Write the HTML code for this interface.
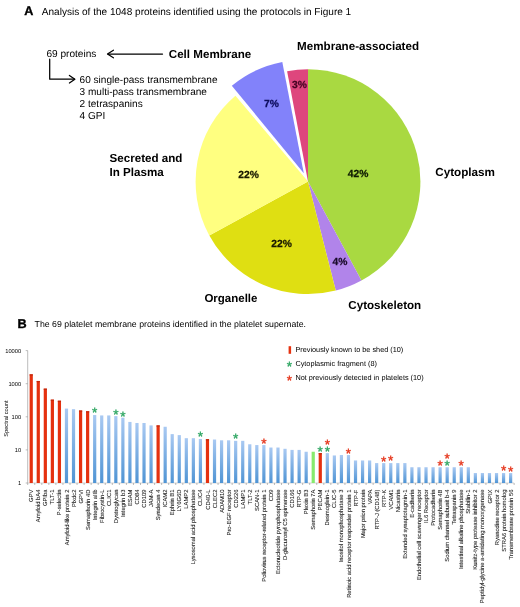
<!DOCTYPE html>
<html lang="en"><head><meta charset="utf-8"><title>Platelet membrane proteins</title>
<style>html,body{margin:0;padding:0;background:#fff;}svg{display:block;}text{font-family:"Liberation Sans", Arial, Helvetica, sans-serif;fill:#000;}.b{font-weight:bold;}.hv{stroke:#000;stroke-width:0.35px;}.pc{stroke-width:0.25px;}.xl text{fill:#202020;stroke:#202020;stroke-width:0.07px;}svg{text-rendering:geometricPrecision;}</style></head><body>
<svg width="520" height="607" viewBox="0 0 520 607">
<defs><linearGradient id="bg" x1="0" y1="0" x2="0" y2="1"><stop offset="0" stop-color="#a9c9f2"/><stop offset="1" stop-color="#4f94d4"/></linearGradient></defs>
<rect width="520" height="607" fill="#fff"/>
<text class="b hv" x="24.3" y="14.9" font-size="12.6">A</text>
<text x="41.8" y="14.8" font-size="10.06">Analysis of the 1048 proteins identified using the protocols in Figure 1</text>
<text x="46.4" y="57.4" font-size="10.1">69 proteins</text>
<text class="b" x="168.8" y="57.6" font-size="11.6">Cell Membrane</text>
<g stroke="#000" stroke-width="1.25" fill="none" stroke-linecap="round" stroke-linejoin="round">
<path d="M162.5 54 H108"/><path d="M113.4 50.2 L107.5 54 L113.4 57.8"/>
<path d="M49.7 59.2 V79.2 H74.4"/><path d="M69.4 75.4 L74.9 79.2 L69.4 83"/>
</g>
<text x="79.6" y="82.7" font-size="10.06">60 single-pass transmembrane</text>
<text x="79.6" y="94.8" font-size="10.06">3 multi-pass transmembrane</text>
<text x="79.6" y="106.9" font-size="10.06">2 tetraspanins</text>
<text x="79.6" y="119.0" font-size="10.06">4 GPI</text>
<text class="b" x="297.1" y="50.2" font-size="11.62">Membrane-associated</text>
<text class="b" x="109.5" y="162" font-size="11.62">Secreted and</text>
<text class="b" x="109.5" y="176.25" font-size="11.62">In Plasma</text>
<text class="b" x="204.4" y="302" font-size="11.5">Organelle</text>
<text class="b" x="435.2" y="176.2" font-size="11.7">Cytoplasm</text>
<text class="b" x="348.3" y="308.5" font-size="11.62">Cytoskeleton</text>
<path d="M308.00 181.60 L308.00 69.20 A112.40 112.40 0 0 1 361.46 280.47 Z" fill="#a9d941"/>
<path d="M308.00 181.60 L361.46 280.47 A112.40 112.40 0 0 1 335.76 290.52 Z" fill="#b184ea"/>
<path d="M308.00 181.60 L335.76 290.52 A112.40 112.40 0 0 1 209.31 235.40 Z" fill="#dfdf12"/>
<path d="M308.00 181.60 L209.31 235.40 A112.40 112.40 0 0 1 235.45 95.75 Z" fill="#ffff80"/>
<path d="M308.00 181.60 L287.13 71.15 A112.40 112.40 0 0 1 308.00 69.20 Z" fill="#de467d"/>
<path d="M303.80 173.20 L231.82 85.70 A113.30 113.30 0 0 1 282.30 61.96 Z" fill="#8282fa"/>
<text class="b pc" x="358.1" y="176.5" font-size="10.3" text-anchor="middle" style="fill:#0e1a02;stroke:#0e1a02">42%</text>
<text class="b pc" x="248.5" y="177.7" font-size="10.3" text-anchor="middle" style="fill:#1a1a00;stroke:#1a1a00">22%</text>
<text class="b pc" x="281.5" y="246.5" font-size="10.3" text-anchor="middle" style="fill:#1a1a00;stroke:#1a1a00">22%</text>
<text class="b pc" x="340.0" y="265.2" font-size="10.3" text-anchor="middle" style="fill:#1a0a2a;stroke:#1a0a2a">4%</text>
<text class="b pc" x="271.5" y="107.2" font-size="10.3" text-anchor="middle" style="fill:#0c0c5c;stroke:#0c0c5c">7%</text>
<text class="b pc" x="299.4" y="88.0" font-size="10.3" text-anchor="middle" style="fill:#480424;stroke:#480424">3%</text>
<text class="b hv" x="17.4" y="328.1" font-size="12.7">B</text>
<text x="34.6" y="327.4" font-size="8.75">The 69 platelet membrane proteins identified in the platelet supernate.</text>
<g stroke="#8f8f8f" stroke-width="0.6" fill="none">
<path d="M27.7 350.6 V483.0"/>
<path d="M27.7 483.0 H514.1" stroke="#b8b8b8"/>
<path d="M25.7 483.00 H27.7"/>
<path d="M25.7 449.90 H27.7"/>
<path d="M25.7 416.80 H27.7"/>
<path d="M25.7 383.70 H27.7"/>
<path d="M25.7 350.60 H27.7"/>
<path d="M27.70 483.0 V485.0"/>
<path d="M34.75 483.0 V485.0"/>
<path d="M41.80 483.0 V485.0"/>
<path d="M48.85 483.0 V485.0"/>
<path d="M55.90 483.0 V485.0"/>
<path d="M62.95 483.0 V485.0"/>
<path d="M70.00 483.0 V485.0"/>
<path d="M77.05 483.0 V485.0"/>
<path d="M84.10 483.0 V485.0"/>
<path d="M91.15 483.0 V485.0"/>
<path d="M98.20 483.0 V485.0"/>
<path d="M105.25 483.0 V485.0"/>
<path d="M112.30 483.0 V485.0"/>
<path d="M119.35 483.0 V485.0"/>
<path d="M126.40 483.0 V485.0"/>
<path d="M133.45 483.0 V485.0"/>
<path d="M140.50 483.0 V485.0"/>
<path d="M147.55 483.0 V485.0"/>
<path d="M154.60 483.0 V485.0"/>
<path d="M161.65 483.0 V485.0"/>
<path d="M168.70 483.0 V485.0"/>
<path d="M175.75 483.0 V485.0"/>
<path d="M182.80 483.0 V485.0"/>
<path d="M189.85 483.0 V485.0"/>
<path d="M196.90 483.0 V485.0"/>
<path d="M203.95 483.0 V485.0"/>
<path d="M211.00 483.0 V485.0"/>
<path d="M218.05 483.0 V485.0"/>
<path d="M225.10 483.0 V485.0"/>
<path d="M232.15 483.0 V485.0"/>
<path d="M239.20 483.0 V485.0"/>
<path d="M246.25 483.0 V485.0"/>
<path d="M253.30 483.0 V485.0"/>
<path d="M260.35 483.0 V485.0"/>
<path d="M267.40 483.0 V485.0"/>
<path d="M274.45 483.0 V485.0"/>
<path d="M281.50 483.0 V485.0"/>
<path d="M288.55 483.0 V485.0"/>
<path d="M295.60 483.0 V485.0"/>
<path d="M302.65 483.0 V485.0"/>
<path d="M309.70 483.0 V485.0"/>
<path d="M316.75 483.0 V485.0"/>
<path d="M323.80 483.0 V485.0"/>
<path d="M330.85 483.0 V485.0"/>
<path d="M337.90 483.0 V485.0"/>
<path d="M344.95 483.0 V485.0"/>
<path d="M352.00 483.0 V485.0"/>
<path d="M359.05 483.0 V485.0"/>
<path d="M366.10 483.0 V485.0"/>
<path d="M373.15 483.0 V485.0"/>
<path d="M380.20 483.0 V485.0"/>
<path d="M387.25 483.0 V485.0"/>
<path d="M394.30 483.0 V485.0"/>
<path d="M401.35 483.0 V485.0"/>
<path d="M408.40 483.0 V485.0"/>
<path d="M415.45 483.0 V485.0"/>
<path d="M422.50 483.0 V485.0"/>
<path d="M429.55 483.0 V485.0"/>
<path d="M436.60 483.0 V485.0"/>
<path d="M443.65 483.0 V485.0"/>
<path d="M450.70 483.0 V485.0"/>
<path d="M457.75 483.0 V485.0"/>
<path d="M464.80 483.0 V485.0"/>
<path d="M471.85 483.0 V485.0"/>
<path d="M478.90 483.0 V485.0"/>
<path d="M485.95 483.0 V485.0"/>
<path d="M493.00 483.0 V485.0"/>
<path d="M500.05 483.0 V485.0"/>
<path d="M507.10 483.0 V485.0"/>
<path d="M514.15 483.0 V485.0"/>
</g>
<text x="21.2" y="485.1" font-size="5.75" text-anchor="end">1</text>
<text x="21.2" y="451.9" font-size="5.75" text-anchor="end">10</text>
<text x="21.2" y="418.9" font-size="5.75" text-anchor="end">100</text>
<text x="21.2" y="385.8" font-size="5.75" text-anchor="end">1000</text>
<text x="21.2" y="352.7" font-size="5.75" text-anchor="end">10000</text>
<text font-size="5.7" text-anchor="middle" transform="translate(7.5 418.6) rotate(-90)">Spectral count</text>
<rect x="29.62" y="374.32" width="3.20" height="108.68" fill="#e5310f"/>
<rect x="29.62" y="374.32" width="3.20" height="1.2" fill="#c0280c"/>
<rect x="36.67" y="380.96" width="3.20" height="102.04" fill="#e5310f"/>
<rect x="36.67" y="380.96" width="3.20" height="1.2" fill="#c0280c"/>
<rect x="43.73" y="388.62" width="3.20" height="94.38" fill="#e5310f"/>
<rect x="43.73" y="388.62" width="3.20" height="1.2" fill="#c0280c"/>
<rect x="50.77" y="399.64" width="3.20" height="83.36" fill="#e5310f"/>
<rect x="50.77" y="399.64" width="3.20" height="1.2" fill="#c0280c"/>
<rect x="57.82" y="400.72" width="3.20" height="82.28" fill="#e5310f"/>
<rect x="57.82" y="400.72" width="3.20" height="1.2" fill="#c0280c"/>
<rect x="64.88" y="408.59" width="3.20" height="74.41" fill="url(#bg)"/>
<rect x="71.92" y="409.17" width="3.20" height="73.83" fill="url(#bg)"/>
<rect x="78.98" y="410.50" width="3.20" height="72.50" fill="#e5310f"/>
<rect x="78.98" y="410.50" width="3.20" height="1.2" fill="#c0280c"/>
<rect x="86.03" y="411.26" width="3.20" height="71.74" fill="#e5310f"/>
<rect x="86.03" y="411.26" width="3.20" height="1.2" fill="#c0280c"/>
<rect x="93.08" y="415.04" width="3.20" height="67.96" fill="url(#bg)"/>
<rect x="100.12" y="415.43" width="3.20" height="67.57" fill="url(#bg)"/>
<rect x="107.18" y="415.43" width="3.20" height="67.57" fill="url(#bg)"/>
<rect x="114.23" y="416.10" width="3.20" height="66.90" fill="url(#bg)"/>
<rect x="121.28" y="417.69" width="3.20" height="65.31" fill="url(#bg)"/>
<rect x="128.32" y="421.93" width="3.20" height="61.07" fill="url(#bg)"/>
<rect x="135.38" y="422.99" width="3.20" height="60.01" fill="url(#bg)"/>
<rect x="142.43" y="422.99" width="3.20" height="60.01" fill="url(#bg)"/>
<rect x="149.47" y="425.39" width="3.20" height="57.61" fill="url(#bg)"/>
<rect x="156.52" y="425.39" width="3.20" height="57.61" fill="#e5310f"/>
<rect x="156.52" y="425.39" width="3.20" height="1.2" fill="#c0280c"/>
<rect x="163.57" y="426.76" width="3.20" height="56.24" fill="url(#bg)"/>
<rect x="170.62" y="434.11" width="3.20" height="48.89" fill="url(#bg)"/>
<rect x="177.67" y="435.10" width="3.20" height="47.90" fill="url(#bg)"/>
<rect x="184.72" y="438.18" width="3.20" height="44.82" fill="url(#bg)"/>
<rect x="191.77" y="438.18" width="3.20" height="44.82" fill="url(#bg)"/>
<rect x="198.82" y="438.96" width="3.20" height="44.04" fill="url(#bg)"/>
<rect x="205.88" y="439.23" width="3.20" height="43.77" fill="#e5310f"/>
<rect x="205.88" y="439.23" width="3.20" height="1.2" fill="#c0280c"/>
<rect x="212.92" y="439.51" width="3.20" height="43.49" fill="url(#bg)"/>
<rect x="219.97" y="440.30" width="3.20" height="42.70" fill="url(#bg)"/>
<rect x="227.02" y="440.30" width="3.20" height="42.70" fill="url(#bg)"/>
<rect x="234.07" y="440.83" width="3.20" height="42.17" fill="url(#bg)"/>
<rect x="241.12" y="440.83" width="3.20" height="42.17" fill="url(#bg)"/>
<rect x="248.17" y="444.26" width="3.20" height="38.74" fill="url(#bg)"/>
<rect x="255.22" y="445.06" width="3.20" height="37.94" fill="url(#bg)"/>
<rect x="262.27" y="445.06" width="3.20" height="37.94" fill="url(#bg)"/>
<rect x="269.32" y="447.52" width="3.20" height="35.48" fill="url(#bg)"/>
<rect x="276.38" y="447.52" width="3.20" height="35.48" fill="url(#bg)"/>
<rect x="283.42" y="448.79" width="3.20" height="34.21" fill="url(#bg)"/>
<rect x="290.47" y="449.90" width="3.20" height="33.10" fill="url(#bg)"/>
<rect x="297.52" y="449.90" width="3.20" height="33.10" fill="url(#bg)"/>
<rect x="304.57" y="451.74" width="3.20" height="31.26" fill="url(#bg)"/>
<rect x="311.62" y="451.74" width="3.20" height="31.26" fill="#86ea6e"/>
<rect x="318.67" y="453.11" width="3.20" height="29.89" fill="#e5310f"/>
<rect x="318.67" y="453.11" width="3.20" height="1.2" fill="#c0280c"/>
<rect x="325.72" y="453.11" width="3.20" height="29.89" fill="url(#bg)"/>
<rect x="332.77" y="455.44" width="3.20" height="27.56" fill="url(#bg)"/>
<rect x="339.82" y="455.03" width="3.20" height="27.97" fill="url(#bg)"/>
<rect x="346.87" y="455.03" width="3.20" height="27.97" fill="url(#bg)"/>
<rect x="353.92" y="460.45" width="3.20" height="22.55" fill="url(#bg)"/>
<rect x="360.97" y="460.45" width="3.20" height="22.55" fill="url(#bg)"/>
<rect x="368.02" y="460.45" width="3.20" height="22.55" fill="url(#bg)"/>
<rect x="375.07" y="463.07" width="3.20" height="19.93" fill="url(#bg)"/>
<rect x="382.12" y="463.07" width="3.20" height="19.93" fill="url(#bg)"/>
<rect x="389.17" y="463.07" width="3.20" height="19.93" fill="url(#bg)"/>
<rect x="396.22" y="463.07" width="3.20" height="19.93" fill="url(#bg)"/>
<rect x="403.27" y="463.07" width="3.20" height="19.93" fill="url(#bg)"/>
<rect x="410.32" y="467.21" width="3.20" height="15.79" fill="url(#bg)"/>
<rect x="417.37" y="467.21" width="3.20" height="15.79" fill="url(#bg)"/>
<rect x="424.42" y="467.21" width="3.20" height="15.79" fill="url(#bg)"/>
<rect x="431.47" y="467.21" width="3.20" height="15.79" fill="url(#bg)"/>
<rect x="438.52" y="467.21" width="3.20" height="15.79" fill="url(#bg)"/>
<rect x="445.57" y="467.21" width="3.20" height="15.79" fill="url(#bg)"/>
<rect x="452.62" y="467.21" width="3.20" height="15.79" fill="url(#bg)"/>
<rect x="459.67" y="467.21" width="3.20" height="15.79" fill="url(#bg)"/>
<rect x="466.72" y="467.21" width="3.20" height="15.79" fill="url(#bg)"/>
<rect x="473.77" y="473.04" width="3.20" height="9.96" fill="url(#bg)"/>
<rect x="480.82" y="473.04" width="3.20" height="9.96" fill="url(#bg)"/>
<rect x="487.87" y="473.04" width="3.20" height="9.96" fill="url(#bg)"/>
<rect x="494.92" y="473.04" width="3.20" height="9.96" fill="url(#bg)"/>
<rect x="501.97" y="473.04" width="3.20" height="9.96" fill="url(#bg)"/>
<rect x="509.02" y="473.04" width="3.20" height="9.96" fill="url(#bg)"/>
<text x="94.67" y="416.54" font-size="13.6" text-anchor="middle" style="fill:#2ea662;stroke:#2ea662;stroke-width:0.35px">*</text>
<text x="115.83" y="419.40" font-size="13.6" text-anchor="middle" style="fill:#2ea662;stroke:#2ea662;stroke-width:0.35px">*</text>
<text x="122.88" y="420.69" font-size="13.6" text-anchor="middle" style="fill:#2ea662;stroke:#2ea662;stroke-width:0.35px">*</text>
<text x="200.42" y="440.96" font-size="13.6" text-anchor="middle" style="fill:#2ea662;stroke:#2ea662;stroke-width:0.35px">*</text>
<text x="235.67" y="443.13" font-size="13.6" text-anchor="middle" style="fill:#2ea662;stroke:#2ea662;stroke-width:0.35px">*</text>
<text x="320.27" y="455.91" font-size="13.6" text-anchor="middle" style="fill:#2ea662;stroke:#2ea662;stroke-width:0.35px">*</text>
<text x="327.32" y="456.31" font-size="13.6" text-anchor="middle" style="fill:#2ea662;stroke:#2ea662;stroke-width:0.35px">*</text>
<text x="447.17" y="469.71" font-size="13.6" text-anchor="middle" style="fill:#2ea662;stroke:#2ea662;stroke-width:0.35px">*</text>
<text x="263.88" y="448.06" font-size="13.6" text-anchor="middle" style="fill:#e5341a;stroke:#e5341a;stroke-width:0.35px">*</text>
<text x="327.32" y="449.31" font-size="13.6" text-anchor="middle" style="fill:#e5341a;stroke:#e5341a;stroke-width:0.35px">*</text>
<text x="348.47" y="457.53" font-size="13.6" text-anchor="middle" style="fill:#e5341a;stroke:#e5341a;stroke-width:0.35px">*</text>
<text x="383.72" y="465.57" font-size="13.6" text-anchor="middle" style="fill:#e5341a;stroke:#e5341a;stroke-width:0.35px">*</text>
<text x="390.77" y="465.47" font-size="13.6" text-anchor="middle" style="fill:#e5341a;stroke:#e5341a;stroke-width:0.35px">*</text>
<text x="440.12" y="469.71" font-size="13.6" text-anchor="middle" style="fill:#e5341a;stroke:#e5341a;stroke-width:0.35px">*</text>
<text x="447.17" y="462.71" font-size="13.6" text-anchor="middle" style="fill:#e5341a;stroke:#e5341a;stroke-width:0.35px">*</text>
<text x="461.27" y="469.91" font-size="13.6" text-anchor="middle" style="fill:#e5341a;stroke:#e5341a;stroke-width:0.35px">*</text>
<text x="503.57" y="475.34" font-size="13.6" text-anchor="middle" style="fill:#e5341a;stroke:#e5341a;stroke-width:0.35px">*</text>
<text x="510.62" y="475.84" font-size="13.6" text-anchor="middle" style="fill:#e5341a;stroke:#e5341a;stroke-width:0.35px">*</text>
<g class="xl">
<text font-size="5.82" text-anchor="end" transform="translate(33.27 489.6) rotate(-90)">GPV</text>
<text font-size="5.82" text-anchor="end" transform="translate(40.32 489.6) rotate(-90)">Amyloid bA4</text>
<text font-size="5.82" text-anchor="end" transform="translate(47.38 489.6) rotate(-90)">GPIba</text>
<text font-size="5.82" text-anchor="end" transform="translate(54.42 489.6) rotate(-90)">TLT-1</text>
<text font-size="5.82" text-anchor="end" transform="translate(61.47 489.6) rotate(-90)">P-selectin</text>
<text font-size="5.82" text-anchor="end" transform="translate(68.52 489.6) rotate(-90)">Amyloid-like protein 2</text>
<text font-size="5.82" text-anchor="end" transform="translate(75.57 489.6) rotate(-90)">Plxdc2</text>
<text font-size="5.82" text-anchor="end" transform="translate(82.62 489.6) rotate(-90)">GPVI</text>
<text font-size="5.82" text-anchor="end" transform="translate(89.67 489.6) rotate(-90)">Semaphorin 4D</text>
<text font-size="5.82" text-anchor="end" transform="translate(96.72 489.6) rotate(-90)">Integrin aIIb</text>
<text font-size="5.82" text-anchor="end" transform="translate(103.77 489.6) rotate(-90)">Fibrocystin-L</text>
<text font-size="5.82" text-anchor="end" transform="translate(110.83 489.6) rotate(-90)">CLIC1</text>
<text font-size="5.82" text-anchor="end" transform="translate(117.88 489.6) rotate(-90)">Dystroglycan</text>
<text font-size="5.82" text-anchor="end" transform="translate(124.92 489.6) rotate(-90)">Integrin b3</text>
<text font-size="5.82" text-anchor="end" transform="translate(131.97 489.6) rotate(-90)">ESAM</text>
<text font-size="5.82" text-anchor="end" transform="translate(139.03 489.6) rotate(-90)">CD84</text>
<text font-size="5.82" text-anchor="end" transform="translate(146.08 489.6) rotate(-90)">CD109</text>
<text font-size="5.82" text-anchor="end" transform="translate(153.12 489.6) rotate(-90)">JAM-A</text>
<text font-size="5.82" text-anchor="end" transform="translate(160.17 489.6) rotate(-90)">Syndecan 4</text>
<text font-size="5.82" text-anchor="end" transform="translate(167.22 489.6) rotate(-90)">ICAM2</text>
<text font-size="5.82" text-anchor="end" transform="translate(174.28 489.6) rotate(-90)">Ephrin B1</text>
<text font-size="5.82" text-anchor="end" transform="translate(181.32 489.6) rotate(-90)">LY6G6D</text>
<text font-size="5.82" text-anchor="end" transform="translate(188.38 489.6) rotate(-90)">LAMP2</text>
<text font-size="5.82" text-anchor="end" transform="translate(195.42 489.6) rotate(-90)">Lysosomal acid phosphatase</text>
<text font-size="5.82" text-anchor="end" transform="translate(202.47 489.6) rotate(-90)">CLIC4</text>
<text font-size="5.82" text-anchor="end" transform="translate(209.53 489.6) rotate(-90)">CD40-L</text>
<text font-size="5.82" text-anchor="end" transform="translate(216.57 489.6) rotate(-90)">CLEC2</text>
<text font-size="5.82" text-anchor="end" transform="translate(223.62 489.6) rotate(-90)">ADAM10</text>
<text font-size="5.82" text-anchor="end" transform="translate(230.67 489.6) rotate(-90)">Pro-EGF receptor</text>
<text font-size="5.82" text-anchor="end" transform="translate(237.72 489.6) rotate(-90)">CD226</text>
<text font-size="5.82" text-anchor="end" transform="translate(244.78 489.6) rotate(-90)">LAMP1</text>
<text font-size="5.82" text-anchor="end" transform="translate(251.82 489.6) rotate(-90)">TLT-2</text>
<text font-size="5.82" text-anchor="end" transform="translate(258.88 489.6) rotate(-90)">SCAN-1</text>
<text font-size="5.82" text-anchor="end" transform="translate(265.93 489.6) rotate(-90)">Poliovirus receptor-related protein 1</text>
<text font-size="5.82" text-anchor="end" transform="translate(272.98 489.6) rotate(-90)">CD9</text>
<text font-size="5.82" text-anchor="end" transform="translate(280.03 489.6) rotate(-90)">Ectonucleotide pyrophosphatase</text>
<text font-size="5.82" text-anchor="end" transform="translate(287.07 489.6) rotate(-90)">D-glucuronyl C5 epimerase</text>
<text font-size="5.82" text-anchor="end" transform="translate(294.12 489.6) rotate(-90)">CD166</text>
<text font-size="5.82" text-anchor="end" transform="translate(301.18 489.6) rotate(-90)">RTP-G</text>
<text font-size="5.82" text-anchor="end" transform="translate(308.22 489.6) rotate(-90)">Plexin B3</text>
<text font-size="5.82" text-anchor="end" transform="translate(315.27 489.6) rotate(-90)">Semaphorin 7A</text>
<text font-size="5.82" text-anchor="end" transform="translate(322.32 489.6) rotate(-90)">PECAM</text>
<text font-size="5.82" text-anchor="end" transform="translate(329.38 489.6) rotate(-90)">Desmoglein-1</text>
<text font-size="5.82" text-anchor="end" transform="translate(336.43 489.6) rotate(-90)">CLIC-5</text>
<text font-size="5.82" text-anchor="end" transform="translate(343.47 489.6) rotate(-90)">Inositol monophosphatase 3</text>
<text font-size="5.82" text-anchor="end" transform="translate(350.52 489.6) rotate(-90)">Retinoic acid receptor responder protein 1</text>
<text font-size="5.82" text-anchor="end" transform="translate(357.57 489.6) rotate(-90)">RTP-F</text>
<text font-size="5.82" text-anchor="end" transform="translate(364.62 489.6) rotate(-90)">Major prion protein</text>
<text font-size="5.82" text-anchor="end" transform="translate(371.68 489.6) rotate(-90)">VAPA</text>
<text font-size="5.82" text-anchor="end" transform="translate(378.72 489.6) rotate(-90)">RTP-J (CD148)</text>
<text font-size="5.82" text-anchor="end" transform="translate(385.77 489.6) rotate(-90)">RTP-K</text>
<text font-size="5.82" text-anchor="end" transform="translate(392.82 489.6) rotate(-90)">VCAM1</text>
<text font-size="5.82" text-anchor="end" transform="translate(399.88 489.6) rotate(-90)">Nicastrin</text>
<text font-size="5.82" text-anchor="end" transform="translate(406.93 489.6) rotate(-90)">Extended synaptotagmin-1</text>
<text font-size="5.82" text-anchor="end" transform="translate(413.97 489.6) rotate(-90)">E-cadherin</text>
<text font-size="5.82" text-anchor="end" transform="translate(421.02 489.6) rotate(-90)">Endothelial cell scavenger receptor</text>
<text font-size="5.82" text-anchor="end" transform="translate(428.07 489.6) rotate(-90)">IL6 Receptor</text>
<text font-size="5.82" text-anchor="end" transform="translate(435.12 489.6) rotate(-90)">Protocadherin</text>
<text font-size="5.82" text-anchor="end" transform="translate(442.18 489.6) rotate(-90)">Semaphorin 4B</text>
<text font-size="5.82" text-anchor="end" transform="translate(449.22 489.6) rotate(-90)">Sodium channel subunit b-4</text>
<text font-size="5.82" text-anchor="end" transform="translate(456.27 489.6) rotate(-90)">Tetraspanin 9</text>
<text font-size="5.82" text-anchor="end" transform="translate(463.32 489.6) rotate(-90)">Intestinal alkaline phosphatase</text>
<text font-size="5.82" text-anchor="end" transform="translate(470.38 489.6) rotate(-90)">Stabilin-1</text>
<text font-size="5.82" text-anchor="end" transform="translate(477.43 489.6) rotate(-90)">Kunitz-type protease inhibitor 2</text>
<text font-size="5.82" text-anchor="end" transform="translate(484.47 489.6) rotate(-90)">Peptidyl-glycine a-amidating monoxygenase</text>
<text font-size="5.82" text-anchor="end" transform="translate(491.52 489.6) rotate(-90)">GPIX</text>
<text font-size="5.82" text-anchor="end" transform="translate(498.57 489.6) rotate(-90)">Ryanodine receptor 2</text>
<text font-size="5.82" text-anchor="end" transform="translate(505.62 489.6) rotate(-90)">STRA6 protein homolog</text>
<text font-size="5.82" text-anchor="end" transform="translate(512.67 489.6) rotate(-90)">Transmembrane protein 56</text>
</g>
<rect x="288.6" y="346.2" width="2.5" height="7.6" fill="#e5310f"/>
<text x="289.50" y="371.40" font-size="13.6" text-anchor="middle" style="fill:#2ea662;stroke:#2ea662;stroke-width:0.35px">*</text>
<text x="289.50" y="385.30" font-size="13.6" text-anchor="middle" style="fill:#e5341a;stroke:#e5341a;stroke-width:0.35px">*</text>
<text x="295.4" y="352.3" font-size="7.31">Previously known to be shed (10)</text>
<text x="295.4" y="365.8" font-size="7.31">Cytoplasmic fragment (8)</text>
<text x="295.4" y="379.7" font-size="7.31">Not previously detected in platelets (10)</text>
</svg></body></html>
